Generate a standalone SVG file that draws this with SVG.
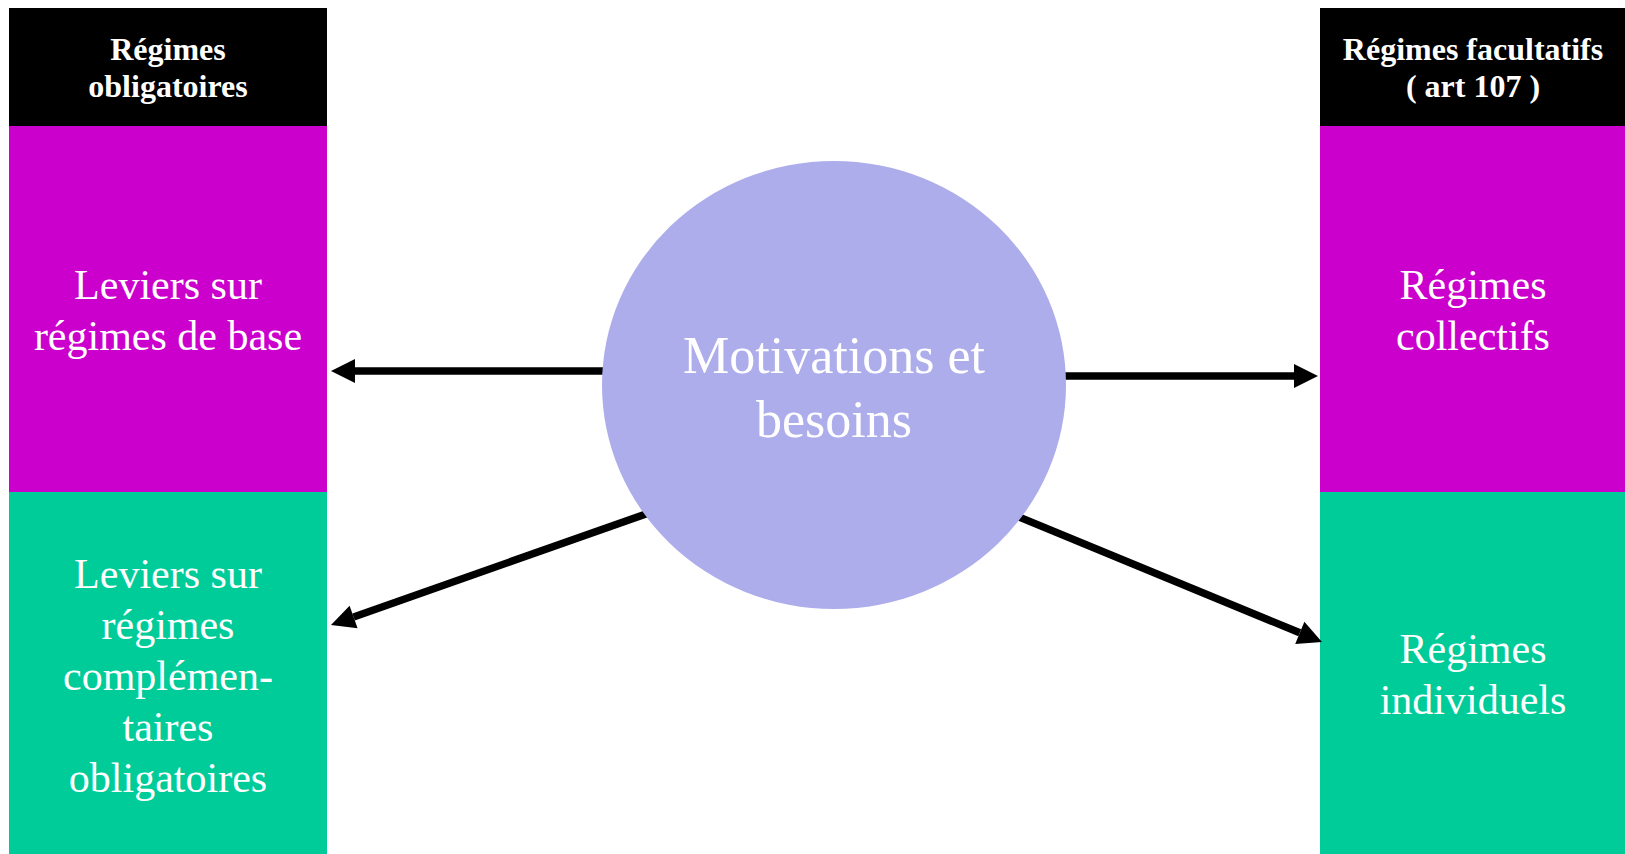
<svg xmlns="http://www.w3.org/2000/svg" width="1625" height="854" viewBox="0 0 1625 854">
  <style>
    text { font-family: "Liberation Serif", "Times New Roman", serif; fill: #ffffff; text-anchor: middle; }
    .hdr { font-size: 32px; font-weight: bold; }
    .box { font-size: 42px; }
    .ctr { font-size: 52px; }
    .conn { stroke: #000000; stroke-width: 7.5; fill: none; marker-end: url(#arrow); }
  </style>
  <defs>
    <marker id="arrow" markerUnits="userSpaceOnUse" markerWidth="25" markerHeight="25" refX="0" refY="12" orient="auto" overflow="visible">
      <path d="M0,0 L24,12 L0,24 Z" fill="#000000"/>
    </marker>
  </defs>
  <rect x="0" y="0" width="1625" height="854" fill="#ffffff"/>

  <g id="left-header">
    <rect x="9" y="8" width="318" height="118" fill="#000000"/>
    <text class="hdr" x="168" y="60">Régimes</text>
    <text class="hdr" x="168" y="97">obligatoires</text>
  </g>
  <g id="left-base">
    <rect x="9" y="126" width="318" height="366" fill="#CC00CC"/>
    <text class="box" x="168" y="299">Leviers sur</text>
    <text class="box" x="168" y="350">régimes de base</text>
  </g>
  <g id="left-compl">
    <rect x="9" y="492" width="318" height="362" fill="#00CC99"/>
    <text class="box" x="168" y="588">Leviers sur</text>
    <text class="box" x="168" y="639">régimes</text>
    <text class="box" x="168" y="690">complémen-</text>
    <text class="box" x="168" y="741">taires</text>
    <text class="box" x="168" y="792">obligatoires</text>
  </g>

  <g id="right-header">
    <rect x="1320" y="8" width="305" height="118" fill="#000000"/>
    <text class="hdr" x="1473" y="60">Régimes facultatifs</text>
    <text class="hdr" x="1473" y="97">( art 107 )</text>
  </g>
  <g id="right-collectifs">
    <rect x="1320" y="126" width="305" height="366" fill="#CC00CC"/>
    <text class="box" x="1473" y="299">Régimes</text>
    <text class="box" x="1473" y="350">collectifs</text>
  </g>
  <g id="right-individuels">
    <rect x="1320" y="492" width="305" height="362" fill="#00CC99"/>
    <text class="box" x="1473" y="663">Régimes</text>
    <text class="box" x="1473" y="714">individuels</text>
  </g>

  <g id="connectors">
    <line class="conn" x1="700" y1="371" x2="355" y2="371"/>
    <line class="conn" x1="980" y1="376" x2="1294" y2="376"/>
    <line class="conn" x1="680" y1="502" x2="353.6" y2="617"/>
    <line class="conn" x1="990" y1="505" x2="1299.8" y2="632.8"/>
  </g>

  <g id="center">
    <ellipse cx="834" cy="385" rx="232" ry="224" fill="#ADADEB"/>
    <text class="ctr" x="834" y="373">Motivations et</text>
    <text class="ctr" x="834" y="437">besoins</text>
  </g>
</svg>
